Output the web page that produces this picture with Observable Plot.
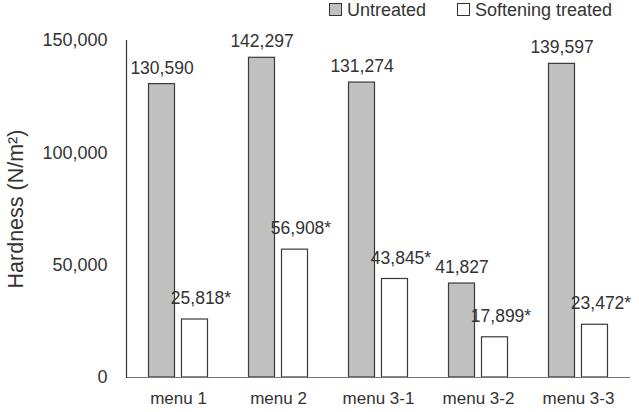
<!DOCTYPE html>
<html>
<head>
<meta charset="utf-8">
<script src="https://cdn.jsdelivr.net/npm/d3@7"></script>
<script src="https://cdn.jsdelivr.net/npm/@observablehq/plot@0.6"></script>
<style>
  html, body { margin: 0; padding: 0; background: #fff; }
  #wrap { position: relative; width: 639px; height: 412px; font-family: "Liberation Sans", Arial, sans-serif; }
  #legend { position: absolute; top: 0; left: 0; width: 639px; height: 22px; font-size: 18px; color: #333; }
  .sw { position: absolute; top: 3px; width: 13px; height: 13px; border: 1px solid #333; box-sizing: border-box; }
  .lt { position: absolute; top: 0px; line-height: 20px; white-space: nowrap; }
  #chart { position: absolute; top: 0; left: 0; }
</style>
</head>
<body>
<div id="wrap">
  <div id="chart"></div>
  <div id="legend"></div>
</div>
<script>
// Hardness of menu items, untreated vs. softening treated
const categories = ["menu 1", "menu 2", "menu 3-1", "menu 3-2", "menu 3-3"];
const untreated = [130590, 142297, 131274, 41827, 139597];
const softened = [25818, 56908, 43845, 17899, 23472];
const seriesNames = ["Untreated", "Softening treated"];
const yTicks = [0, 50000, 100000, 150000];

const fmt = d3.format(",");
const untreatedRows = categories.map((c, i) => ({cat: c, value: untreated[i], label: fmt(untreated[i])}));
const softenedRows = categories.map((c, i) => ({cat: c, value: softened[i], label: fmt(softened[i]) + "*"}));

const seriesFill = ["#c0c0c0", "#ffffff"];
const barStroke = "#3a3a3a";
const textColor = "#333";
const font = "'Liberation Sans', Arial, sans-serif";
const half = 16.5;

const chart = Plot.plot({
  width: 639,
  height: 412,
  marginLeft: 126,
  marginRight: 9,
  marginTop: 40,
  marginBottom: 35,
  style: {fontFamily: font, color: textColor, background: "transparent"},
  x: {domain: categories, paddingInner: 0.742, paddingOuter: 0.371},
  y: {domain: [0, 150000]},
  marks: [
    Plot.barY(untreatedRows, {x: "cat", y: "value", fill: seriesFill[0], stroke: barStroke, strokeWidth: 1.2, dx: -half}),
    Plot.barY(softenedRows, {x: "cat", y: "value", fill: seriesFill[1], stroke: barStroke, strokeWidth: 1.2, dx: half}),
    Plot.text(untreatedRows, {x: "cat", y: "value", text: "label", dx: -half, dy: -16, fontSize: 17.5, fill: textColor}),
    Plot.text(softenedRows, {x: "cat", y: "value", text: "label", dx: half + 6, dy: -21, fontSize: 17.5, fill: textColor}),
    Plot.ruleY([0], {stroke: "#777", strokeWidth: 1.2}),
    Plot.frame({anchor: "left", stroke: "#333", strokeWidth: 1.2}),
    Plot.axisY({ticks: yTicks, tickSize: 0, tickPadding: 19, tickFormat: d3.format(","), fontSize: 18, label: null, fill: textColor}),
    Plot.axisX({tickSize: 0, tickPadding: 14, fontSize: 17, label: null, fill: textColor}),
    Plot.text(["Hardness (N/m²)"], {frameAnchor: "left", textAnchor: "middle", dx: -110, rotate: -90, fontSize: 21.5, fill: textColor})
  ]
});
document.getElementById("chart").appendChild(chart);

// Legend swatches above the plot area
const legend = document.getElementById("legend");
const legendX = [329, 457];
seriesNames.forEach((name, i) => {
  const sw = document.createElement("div");
  sw.className = "sw";
  sw.style.left = legendX[i] + "px";
  sw.style.background = seriesFill[i];
  legend.appendChild(sw);
  const t = document.createElement("div");
  t.className = "lt";
  t.style.left = (legendX[i] + 18) + "px";
  t.textContent = name;
  legend.appendChild(t);
});
</script>
</body>
</html>
